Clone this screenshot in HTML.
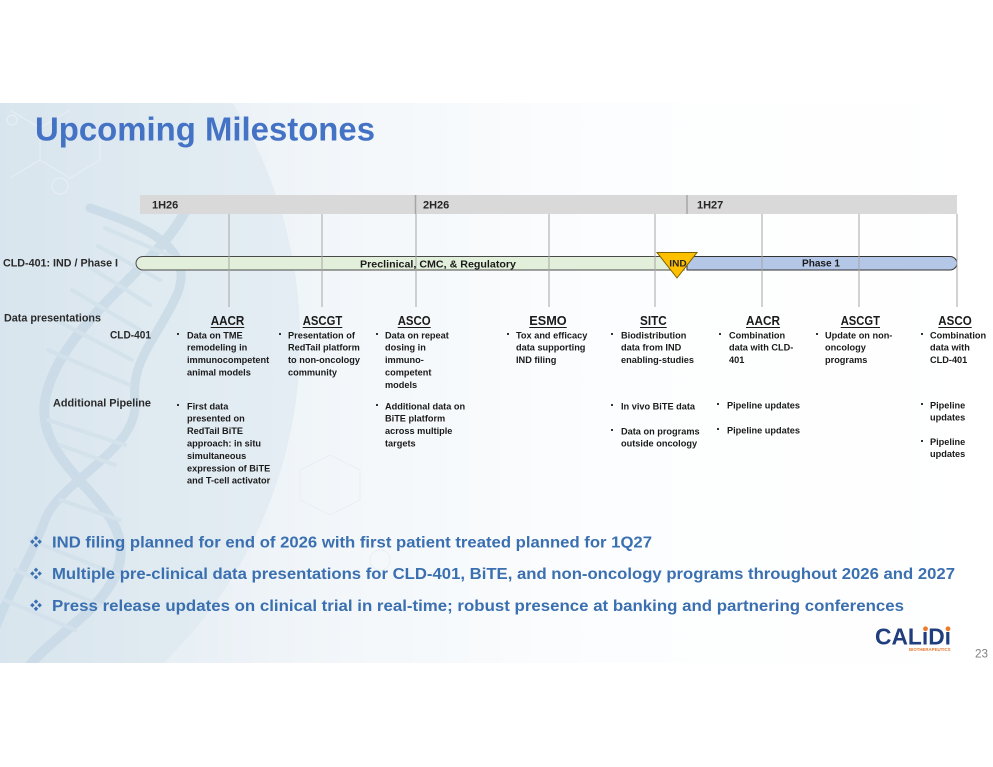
<!DOCTYPE html>
<html><head><meta charset="utf-8"><style>
html,body{margin:0;padding:0;background:#fff;}
svg{display:block;}
text{font-family:"Liberation Sans",Arial,sans-serif;}
</style></head><body>
<svg width="993" height="767" viewBox="0 0 993 767" xmlns="http://www.w3.org/2000/svg">
<defs>
<linearGradient id="bg" x1="0" y1="0" x2="1" y2="0">
<stop offset="0" stop-color="#dae6ee"/>
<stop offset="0.15" stop-color="#e6eef4"/>
<stop offset="0.35" stop-color="#f3f7fa"/>
<stop offset="0.6" stop-color="#fcfdfe"/>
<stop offset="1" stop-color="#ffffff"/>
</linearGradient>
<clipPath id="band"><rect x="0" y="103" width="993" height="560"/></clipPath>
</defs>
<rect x="0" y="0" width="993" height="767" fill="#fff"/>
<g clip-path="url(#band)">
<rect x="0" y="103" width="993" height="560" fill="url(#bg)"/>
<circle cx="-150" cy="340" r="450" fill="#d6e4ee" opacity="0.45"/>
<g fill="none" stroke="#c6d9e6" stroke-linecap="round" opacity="0.75">
<path d="M190 200 C170 260,60 320,45 400 C35 470,130 500,120 560 C112 610,40 640,20 680" stroke-width="10"/>
<path d="M90 208 C140 225,195 245,178 292 C160 335,130 360,135 400 C140 450,60 480,45 520 C30 560,5 600,-5 630" stroke-width="9"/>
<g stroke-width="4" stroke="#d0e0ea">
<line x1="105" y1="228" x2="175" y2="258"/>
<line x1="98" y1="246" x2="160" y2="280"/>
<line x1="88" y1="266" x2="150" y2="305"/>
<line x1="72" y1="290" x2="140" y2="330"/>
<line x1="56" y1="320" x2="132" y2="360"/>
<line x1="48" y1="350" x2="130" y2="385"/>
<line x1="48" y1="420" x2="125" y2="445"/>
<line x1="60" y1="445" x2="115" y2="465"/>
<line x1="60" y1="500" x2="120" y2="520"/>
<line x1="30" y1="540" x2="118" y2="575"/>
<line x1="15" y1="570" x2="100" y2="605"/>
<line x1="5" y1="600" x2="75" y2="630"/>
</g>
</g>
<g fill="none" stroke="#e8eff4" stroke-width="1">
<path d="M10 110 L40 128 L40 160 L10 178 M40 128 L70 110 M40 160 L70 178 L100 160 L100 128"/>
<circle cx="12" cy="120" r="5"/>
<circle cx="60" cy="186" r="8"/>
<circle cx="380" cy="560" r="10"/>
<path d="M300 470 L330 455 L360 470 L360 500 L330 515 L300 500 Z"/>
</g>
</g>

<!-- Title -->
<text x="35" y="140.5" font-size="33" font-weight="bold" fill="#4472c4" textLength="340" lengthAdjust="spacingAndGlyphs">Upcoming Milestones</text>

<!-- Header bar -->
<rect x="140" y="195" width="817" height="19" fill="#d9d9d9"/>
<line x1="415.5" y1="195" x2="415.5" y2="214" stroke="#a6a6a6" stroke-width="1.5"/>
<line x1="687" y1="195" x2="687" y2="214" stroke="#a6a6a6" stroke-width="1.5"/>
<g font-size="11" font-weight="bold" fill="#262626">
<text x="152" y="208.5">1H26</text>
<text x="423" y="208.5">2H26</text>
<text x="697" y="208.5">1H27</text>
</g>

<!-- Bars -->
<path d="M684 256.5 H143 A7 6.75 0 0 0 143 270 H684 Z" fill="#e2efda" stroke="#4a4a4a" stroke-width="1"/>
<path d="M687 256.5 H950 A7 6.75 0 0 1 950 270 H687 Z" fill="#b4c7e7" stroke="#333" stroke-width="1"/>

<!-- Vertical lines -->
<g stroke="#a6a6a6" stroke-width="1">
<line x1="229" y1="214" x2="229" y2="307"/>
<line x1="322" y1="214" x2="322" y2="307"/>
<line x1="416" y1="214" x2="416" y2="307"/>
<line x1="549" y1="214" x2="549" y2="307"/>
<line x1="655" y1="214" x2="655" y2="307"/>
<line x1="762" y1="214" x2="762" y2="307"/>
<line x1="859" y1="214" x2="859" y2="307"/>
<line x1="957" y1="214" x2="957" y2="307"/>
</g>

<text x="360" y="267.3" font-size="10.5" font-weight="bold" fill="#1a1a1a" textLength="156" lengthAdjust="spacingAndGlyphs">Preclinical, CMC, &amp; Regulatory</text>
<text x="802" y="266.7" font-size="10.5" font-weight="bold" fill="#1a1a1a" textLength="38" lengthAdjust="spacingAndGlyphs">Phase 1</text>

<!-- IND triangle -->
<polygon points="657,252.5 697,252.5 677,278" fill="#ffc000" stroke="#7a6000" stroke-width="1"/>
<text x="669.3" y="266.5" font-size="9" font-weight="bold" fill="#262626" textLength="17.4" lengthAdjust="spacingAndGlyphs">IND</text>

<!-- Row labels -->
<g font-size="10.8" font-weight="bold" fill="#2a2a2a">
<text x="3" y="266.7" textLength="115" lengthAdjust="spacingAndGlyphs">CLD-401: IND / Phase I</text>
<text x="4" y="321.5" textLength="97" lengthAdjust="spacingAndGlyphs">Data presentations</text>
<text x="110" y="338.3" textLength="41" lengthAdjust="spacingAndGlyphs">CLD-401</text>
<text x="53" y="406.7" textLength="98" lengthAdjust="spacingAndGlyphs">Additional Pipeline</text>
</g>

<!-- Column headings -->
<g font-size="13" font-weight="bold" fill="#1a1a1a">
<text x="210.7" y="325" textLength="33.6" lengthAdjust="spacingAndGlyphs">AACR</text>
<text x="302.7" y="325" textLength="39.6" lengthAdjust="spacingAndGlyphs">ASCGT</text>
<text x="397.7" y="325" textLength="33" lengthAdjust="spacingAndGlyphs">ASCO</text>
<text x="529.3" y="325" textLength="37.4" lengthAdjust="spacingAndGlyphs">ESMO</text>
<text x="640" y="325" textLength="26.7" lengthAdjust="spacingAndGlyphs">SITC</text>
<text x="746" y="325" textLength="34" lengthAdjust="spacingAndGlyphs">AACR</text>
<text x="840.7" y="325" textLength="39.3" lengthAdjust="spacingAndGlyphs">ASCGT</text>
<text x="938.3" y="325" textLength="33.4" lengthAdjust="spacingAndGlyphs">ASCO</text>
</g>
<g stroke="#1a1a1a" stroke-width="1">
<line x1="210.7" y1="327.5" x2="244.3" y2="327.5"/>
<line x1="302.7" y1="327.5" x2="342.3" y2="327.5"/>
<line x1="397.7" y1="327.5" x2="430.7" y2="327.5"/>
<line x1="529.3" y1="327.5" x2="566.7" y2="327.5"/>
<line x1="640" y1="327.5" x2="666.7" y2="327.5"/>
<line x1="746" y1="327.5" x2="780" y2="327.5"/>
<line x1="840.7" y1="327.5" x2="880" y2="327.5"/>
<line x1="938.3" y1="327.5" x2="971.7" y2="327.5"/>
</g>

<!-- Bullet marks -->
<g fill="#333">
<rect x="177" y="333" width="2" height="2"/>
<rect x="177" y="404" width="2" height="2"/>
<rect x="279" y="333" width="2" height="2"/>
<rect x="376" y="333" width="2" height="2"/>
<rect x="376" y="404" width="2" height="2"/>
<rect x="507" y="333" width="2" height="2"/>
<rect x="611" y="333" width="2" height="2"/>
<rect x="611" y="404" width="2" height="2"/>
<rect x="611" y="429" width="2" height="2"/>
<rect x="719" y="333" width="2" height="2"/>
<rect x="717" y="403" width="2" height="2"/>
<rect x="717" y="428" width="2" height="2"/>
<rect x="816" y="333" width="2" height="2"/>
<rect x="921" y="333" width="2" height="2"/>
<rect x="921" y="403" width="2" height="2"/>
<rect x="921" y="440" width="2" height="2"/>
</g>

<!-- Bullet text -->
<g font-size="9.2" font-weight="bold" fill="#1a1a1a">
<text x="187" y="338.3">Data on TME</text>
<text x="187" y="350.7">remodeling in</text>
<text x="187" y="363.1">immunocompetent</text>
<text x="187" y="375.5">animal models</text>

<text x="187" y="409.3">First data</text>
<text x="187" y="421.7">presented on</text>
<text x="187" y="434.1">RedTail BiTE</text>
<text x="187" y="446.5">approach: in situ</text>
<text x="187" y="458.9">simultaneous</text>
<text x="187" y="471.3">expression of BiTE</text>
<text x="187" y="483.7">and T-cell activator</text>

<text x="288" y="338.3">Presentation of</text>
<text x="288" y="350.7">RedTail platform</text>
<text x="288" y="363.1">to non-oncology</text>
<text x="288" y="375.5">community</text>

<text x="385" y="338.3">Data on repeat</text>
<text x="385" y="350.7">dosing in</text>
<text x="385" y="363.1">immuno-</text>
<text x="385" y="375.5">competent</text>
<text x="385" y="387.9">models</text>

<text x="385" y="409.3">Additional data on</text>
<text x="385" y="421.7">BiTE platform</text>
<text x="385" y="434.1">across multiple</text>
<text x="385" y="446.5">targets</text>

<text x="516" y="338.3">Tox and efficacy</text>
<text x="516" y="350.7">data supporting</text>
<text x="516" y="363.1">IND filing</text>

<text x="621" y="338.3">Biodistribution</text>
<text x="621" y="350.7">data from IND</text>
<text x="621" y="363.1">enabling-studies</text>

<text x="621" y="409.3">In vivo BiTE data</text>
<text x="621" y="434.3">Data on programs</text>
<text x="621" y="446.7">outside oncology</text>

<text x="729" y="338.3">Combination</text>
<text x="729" y="350.7">data with CLD-</text>
<text x="729" y="363.1">401</text>

<text x="727" y="408.3">Pipeline updates</text>
<text x="727" y="433.3">Pipeline updates</text>

<text x="825" y="338.3">Update on non-</text>
<text x="825" y="350.7">oncology</text>
<text x="825" y="363.1">programs</text>

<text x="930" y="338.3">Combination</text>
<text x="930" y="350.7">data with</text>
<text x="930" y="363.1">CLD-401</text>

<text x="930" y="408.3">Pipeline</text>
<text x="930" y="420.3">updates</text>
<text x="930" y="445">Pipeline</text>
<text x="930" y="457">updates</text>
</g>

<!-- Bottom bullets -->
<g fill="#3a6fb0">
<g transform="translate(36,541.7)">
<rect x="-1.6" y="-5.2" width="3.2" height="3.2" transform="rotate(45 0 -3.6)"/>
<rect x="-1.6" y="2" width="3.2" height="3.2" transform="rotate(45 0 3.6)"/>
<rect x="-5.2" y="-1.6" width="3.2" height="3.2" transform="rotate(45 -3.6 0)"/>
<rect x="2" y="-1.6" width="3.2" height="3.2" transform="rotate(45 3.6 0)"/>
</g>
<g transform="translate(36,573.5)">
<rect x="-1.6" y="-5.2" width="3.2" height="3.2" transform="rotate(45 0 -3.6)"/>
<rect x="-1.6" y="2" width="3.2" height="3.2" transform="rotate(45 0 3.6)"/>
<rect x="-5.2" y="-1.6" width="3.2" height="3.2" transform="rotate(45 -3.6 0)"/>
<rect x="2" y="-1.6" width="3.2" height="3.2" transform="rotate(45 3.6 0)"/>
</g>
<g transform="translate(36,605.2)">
<rect x="-1.6" y="-5.2" width="3.2" height="3.2" transform="rotate(45 0 -3.6)"/>
<rect x="-1.6" y="2" width="3.2" height="3.2" transform="rotate(45 0 3.6)"/>
<rect x="-5.2" y="-1.6" width="3.2" height="3.2" transform="rotate(45 -3.6 0)"/>
<rect x="2" y="-1.6" width="3.2" height="3.2" transform="rotate(45 3.6 0)"/>
</g>
<g font-size="16" font-weight="bold">
<text x="52" y="547.3" textLength="600" lengthAdjust="spacingAndGlyphs">IND filing planned for end of 2026 with first patient treated planned for 1Q27</text>
<text x="52" y="579.2" textLength="903" lengthAdjust="spacingAndGlyphs">Multiple pre-clinical data presentations for CLD-401, BiTE, and non-oncology programs throughout 2026 and 2027</text>
<text x="52" y="610.8" textLength="852" lengthAdjust="spacingAndGlyphs">Press release updates on clinical trial in real-time; robust presence at banking and partnering conferences</text>
</g>
</g>

<!-- Logo -->
<text x="875" y="644.3" font-size="23" font-weight="bold" fill="#203d7e" textLength="76" lengthAdjust="spacingAndGlyphs">CALıDı</text>
<circle cx="925.5" cy="628.8" r="2.4" fill="#ee7a2c"/>
<circle cx="948" cy="628.8" r="2.4" fill="#ee7a2c"/>
<text x="909" y="651.2" font-size="4.5" font-weight="bold" fill="#e8772e" textLength="41.5" lengthAdjust="spacingAndGlyphs">BIOTHERAPEUTICS</text>
<text x="975" y="657.5" font-size="12" fill="#7f7f7f" textLength="13" lengthAdjust="spacingAndGlyphs">23</text>
</svg>
</body></html>
